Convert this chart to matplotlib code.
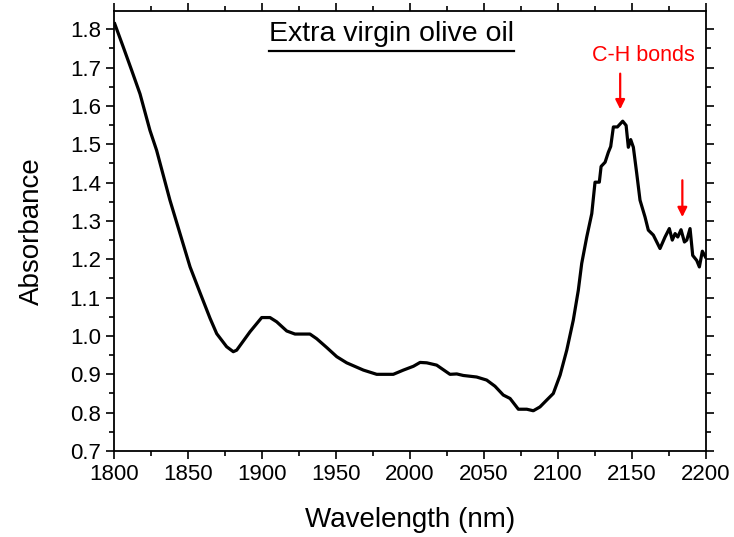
import numpy as np
import matplotlib
matplotlib.use("Agg")
import matplotlib.pyplot as plt
from matplotlib.ticker import MultipleLocator
from matplotlib.lines import Line2D

plt.rcParams['font.family'] = ['Liberation Sans', 'DejaVu Sans']

# NIR absorbance spectrum of extra virgin olive oil
wavelength = [1800.5, 1806.3, 1812.0, 1817.6, 1824.3, 1828.8, 1837.8, 1844.6, 1851.4,
              1858.1, 1864.9, 1869.4, 1876.1, 1880.6, 1882.9, 1891.9, 1899.8, 1905.4,
              1909.9, 1916.7, 1922.3, 1932.4, 1936.9, 1943.7, 1950.5, 1957.2, 1968.5,
              1977.5, 1988.7, 1995.5, 2002.3, 2006.8, 2011.3, 2018.0, 2027.0, 2031.6,
              2036.0, 2045.0, 2051.8, 2057.4, 2063.0, 2067.6, 2073.2, 2078.9, 2083.3,
              2087.8, 2092.4, 2096.8, 2101.4, 2105.9, 2110.3, 2113.7, 2116.0, 2119.4,
              2122.8, 2125.0, 2127.9, 2129.1, 2131.8, 2134.0, 2135.6, 2137.4, 2140.1,
              2143.7, 2146.0, 2147.5, 2149.1, 2150.9, 2153.2, 2155.4, 2158.8, 2161.0,
              2164.4, 2168.9, 2172.3, 2175.2, 2177.2, 2179.1, 2180.9, 2183.1, 2185.4,
              2187.0, 2189.2, 2191.0, 2193.7, 2195.5, 2197.5, 2199.6]
absorbance = [1.814, 1.753, 1.692, 1.631, 1.536, 1.484, 1.354, 1.267, 1.180,
              1.113, 1.046, 1.006, 0.972, 0.959, 0.963, 1.011, 1.048, 1.048,
              1.037, 1.013, 1.005, 1.005, 0.993, 0.970, 0.946, 0.930, 0.911,
              0.900, 0.900, 0.911, 0.921, 0.931, 0.930, 0.924, 0.900, 0.901,
              0.897, 0.893, 0.885, 0.869, 0.846, 0.837, 0.809, 0.809, 0.805,
              0.815, 0.833, 0.850, 0.898, 0.963, 1.041, 1.119, 1.189, 1.258,
              1.319, 1.401, 1.401, 1.442, 1.453, 1.479, 1.494, 1.545, 1.545,
              1.560, 1.549, 1.492, 1.512, 1.492, 1.423, 1.354, 1.310, 1.276,
              1.263, 1.228, 1.258, 1.280, 1.250, 1.267, 1.258, 1.277, 1.245,
              1.250, 1.280, 1.210, 1.197, 1.180, 1.221, 1.206]

# C-H band markers (arrow x, arrow top, arrow tip)
arrow_x = [2142, 2184]
arrow_top = [1.684, 1.406]
arrow_tip = [1.591, 1.310]

fig = plt.figure(figsize=(7.34, 5.37), dpi=100)
ax = fig.add_axes([0.1553, 0.1601, 0.8066, 0.8199])

ax.plot(wavelength, absorbance, color='black', lw=2.3, solid_joinstyle='round')

for x, y0, y1 in zip(arrow_x, arrow_top, arrow_tip):
    ax.annotate('', xy=(x, y1), xytext=(x, y0),
                arrowprops=dict(arrowstyle='-|>', color='red', lw=1.6,
                                mutation_scale=14, shrinkA=0, shrinkB=0))
ax.text(2158, 1.731, 'C-H bonds', color='red', fontsize=15.5,
        ha='center', va='center')

title = ax.text(0.469, 0.948, 'Extra virgin olive oil', transform=ax.transAxes,
                fontsize=20.5, ha='center', va='center')

ax.set_xlim(1800, 2200)
ax.set_ylim(0.7, 1.848)
ax.xaxis.set_major_locator(MultipleLocator(50))
ax.xaxis.set_minor_locator(MultipleLocator(25))
ax.yaxis.set_major_locator(MultipleLocator(0.1))
ax.yaxis.set_minor_locator(MultipleLocator(0.05))
ax.tick_params(which='both', direction='out', top=True, right=True,
               labelsize=16, width=1.2)
ax.tick_params(which='major', length=6)
ax.tick_params(which='minor', length=3.5)
for s in ax.spines.values():
    s.set_linewidth(1.3)

ax.set_xlabel('Wavelength (nm)', fontsize=20, labelpad=16)
ax.set_ylabel('Absorbance', fontsize=20, labelpad=18)

# underline the title
fig.canvas.draw()
bb = title.get_window_extent().transformed(fig.transFigure.inverted())
uy = bb.y0 - 0.008
fig.add_artist(Line2D([bb.x0, bb.x1], [uy, uy], color='black', lw=1.6,
                      transform=fig.transFigure))

fig.savefig('out.png', dpi=100)
